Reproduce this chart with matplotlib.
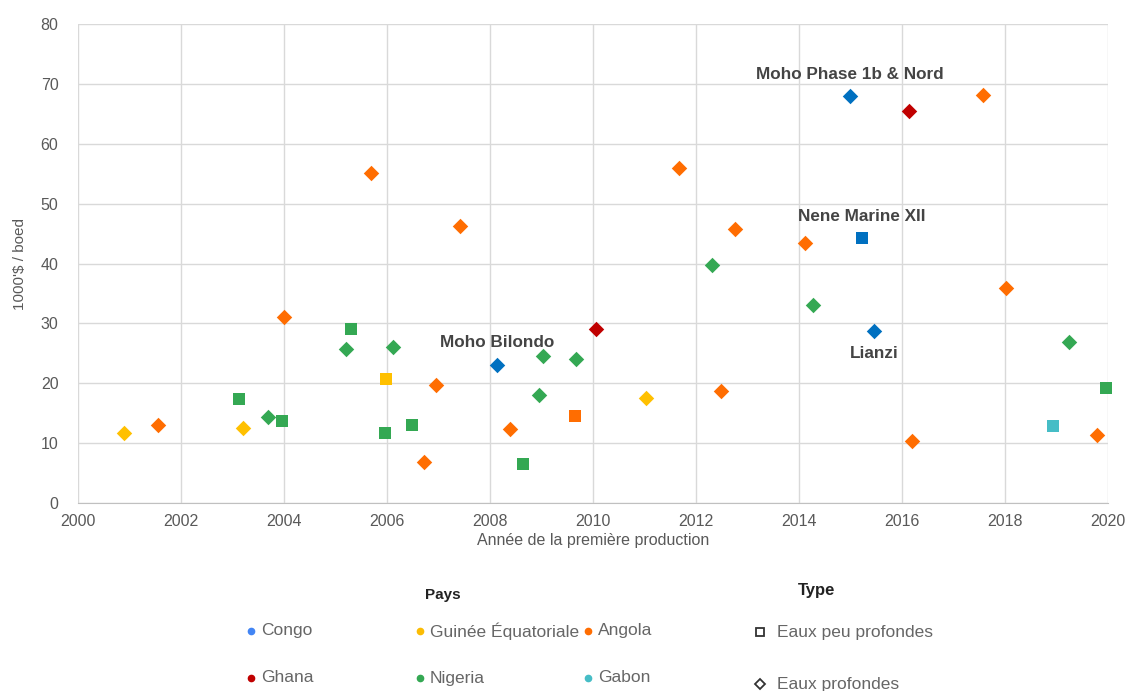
import matplotlib.pyplot as plt

plt.rcParams['font.family'] = ['Liberation Sans', 'DejaVu Sans']

# Données
annee = [2000.9, 2001.55, 2003.2, 2003.13, 2003.69, 2003.96, 2004.0, 2005.2, 2005.3, 2005.69,
         2006.12, 2005.98, 2005.96, 2006.49, 2006.72, 2006.95, 2007.42, 2008.14, 2008.39, 2008.64,
         2008.95, 2009.03, 2009.65, 2009.67, 2010.06, 2011.03, 2011.67, 2012.31, 2012.5, 2012.76,
         2014.12, 2014.27, 2014.99, 2015.22, 2015.46, 2016.14, 2016.19, 2017.57, 2018.02, 2018.93,
         2019.24, 2019.79, 2019.96]
cout = [11.7, 13.0, 12.5, 17.4, 14.3, 13.7, 31.1, 25.8, 29.1, 55.2,
        26.0, 20.7, 11.7, 13.0, 6.8, 19.8, 46.3, 23.0, 12.3, 6.6,
        18.1, 24.5, 14.5, 24.0, 29.1, 17.6, 56.0, 39.7, 18.7, 45.7,
        43.5, 33.1, 68.0, 44.3, 28.7, 65.5, 10.3, 68.2, 35.9, 12.8,
        26.9, 11.4, 19.2]
pays = ['Guinée Équatoriale', 'Angola', 'Guinée Équatoriale', 'Nigeria', 'Nigeria', 'Nigeria', 'Angola',
        'Nigeria', 'Nigeria', 'Angola', 'Nigeria', 'Guinée Équatoriale', 'Nigeria', 'Nigeria', 'Angola',
        'Angola', 'Angola', 'Congo', 'Angola', 'Nigeria', 'Nigeria', 'Nigeria', 'Angola', 'Nigeria',
        'Ghana', 'Guinée Équatoriale', 'Angola', 'Nigeria', 'Angola', 'Angola', 'Angola', 'Nigeria',
        'Congo', 'Congo', 'Congo', 'Ghana', 'Angola', 'Angola', 'Angola', 'Gabon', 'Nigeria', 'Angola',
        'Nigeria']
# P = eaux profondes (losange), S = eaux peu profondes (carré)
profondeur = ['P', 'P', 'P', 'S', 'P', 'S', 'P', 'P', 'S', 'P',
              'P', 'S', 'S', 'S', 'P', 'P', 'P', 'P', 'P', 'S',
              'P', 'P', 'S', 'P', 'P', 'P', 'P', 'P', 'P', 'P',
              'P', 'P', 'P', 'S', 'P', 'P', 'P', 'P', 'P', 'S',
              'P', 'P', 'S']

etiquettes = {17: ('Moho Bilondo', 23), 32: ('Moho Phase 1b & Nord', 22),
              33: ('Nene Marine XII', 21), 34: ('Lianzi', -22)}

couleurs = {'Congo': '#0070c0', 'Guinée Équatoriale': '#ffc000', 'Angola': '#ff6d01',
            'Ghana': '#c00000', 'Nigeria': '#34a853', 'Gabon': '#46bdc6'}
couleurs_leg = {'Congo': '#4285f4', 'Guinée Équatoriale': '#fbbc04', 'Angola': '#ff6d01',
                'Ghana': '#c00000', 'Nigeria': '#34a853', 'Gabon': '#46bdc6'}

fig = plt.figure(figsize=(11.28, 6.91), dpi=100)
ax = fig.add_axes([0.069, 0.272, 0.913, 0.693])

for x, y, p, d in zip(annee, cout, pays, profondeur):
    if d == 'S':
        ax.scatter(x, y, marker='s', s=82, color=couleurs[p], zorder=3, linewidths=0, clip_on=False)
    else:
        ax.scatter(x, y, marker='D', s=62, color=couleurs[p], zorder=3, linewidths=0, clip_on=False)

for i, (txt, dy) in etiquettes.items():
    ax.annotate(txt, (annee[i], cout[i]), xytext=(0, dy * 0.72), textcoords='offset points',
                ha='center', va='center', fontsize=12.3, fontweight='bold', color='#444444')

ax.set_xlim(2000, 2020)
ax.set_ylim(0, 80)
ax.set_xticks(range(2000, 2021, 2))
ax.set_yticks(range(0, 81, 10))
ax.grid(True, color='#d9d9d9', linewidth=1)
ax.set_axisbelow(True)
for s in ['top', 'right', 'left']:
    ax.spines[s].set_visible(False)
ax.spines['bottom'].set_color('#c0c0c0')
ax.tick_params(length=0, labelsize=11.5, labelcolor='#595959')
ax.tick_params(axis='y', pad=14)
ax.tick_params(axis='x', pad=8)
ax.set_xlabel('Année de la première production', fontsize=11.5, color='#595959', labelpad=3)
ax.set_ylabel("1000'$ / boed", fontsize=11, color='#595959', labelpad=10)

# Légende manuelle
lg = fig.add_axes([0, 0, 1, 1])
lg.set_xlim(0, 1128)
lg.set_ylim(691, 0)
lg.axis('off')
lg.text(443, 595, 'Pays', ha='center', va='center', fontsize=11, fontweight='bold', color='#222222')
lg.text(817, 590, 'Type', ha='center', va='center', fontsize=12, fontweight='bold', color='#222222')
pos = {'Congo': (251, 631), 'Guinée Équatoriale': (420, 631), 'Angola': (588, 631),
       'Ghana': (251, 678), 'Nigeria': (420, 678), 'Gabon': (588, 678)}
for p, (x, y) in pos.items():
    lg.plot(x, y, 'o', ms=4.5, color=couleurs_leg[p])
    lg.text(x + 10, y, p, ha='left', va='center', fontsize=12.5, color='#666666')
lg.plot(760, 632, 's', ms=6, mfc='white', mec='#333333', mew=1.3)
lg.text(777, 632, 'Eaux peu profondes', ha='left', va='center', fontsize=12.5, color='#666666')
lg.plot(760, 684, 'D', ms=5, mfc='white', mec='#333333', mew=1.3)
lg.text(777, 684, 'Eaux profondes', ha='left', va='center', fontsize=12.5, color='#666666')

fig.savefig('out.png', dpi=100)
